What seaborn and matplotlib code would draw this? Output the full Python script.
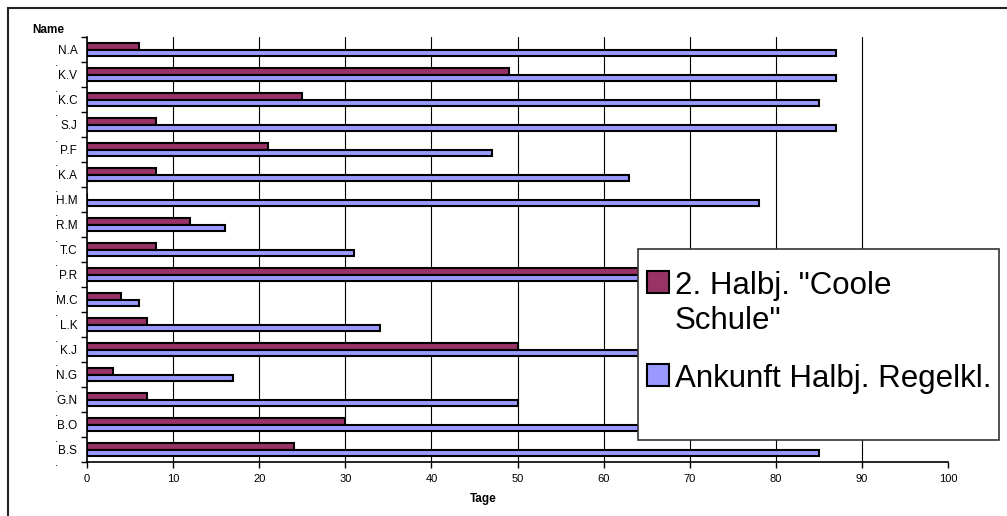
import numpy as np
import pandas as pd
import matplotlib
matplotlib.use("Agg")
import matplotlib.pyplot as plt
import seaborn as sns
from matplotlib.patches import Patch, Rectangle

# ---- data ----
names = ["N.A", "K.V", "K.C", "S.J", "P.F", "K.A", "H.M", "R.M", "T.C",
         "P.R", "M.C", "L.K", "K.J", "N.G", "G.N", "B.O", "B.S"]
halbj2 = [6, 49, 25, 8, 21, 8, 0, 12, 8, 70, 4, 7, 50, 3, 7, 30, 24]
ankunft = [87, 87, 85, 87, 47, 63, 78, 16, 31, 78, 6, 34, 74, 17, 50, 71, 85]
series = ['2. Halbj. "Coole Schule"', 'Ankunft Halbj. Regelkl.']
legend_labels = ['2. Halbj. "Coole\nSchule"', 'Ankunft Halbj. Regelkl.']
colors = ["#993366", "#9999FF"]
xticks = [0, 10, 20, 30, 40, 50, 60, 70, 80, 90, 100]
xlabel = "Tage"
ylabel = "Name"

sns.set_theme(style="white")
plt.rcParams['font.family'] = ['Liberation Sans', 'DejaVu Sans']

df = pd.DataFrame({
    "Name": names * 2,
    "Tage": halbj2 + ankunft,
    "Serie": [series[0]] * len(names) + [series[1]] * len(names),
})

W, H = 1007, 516
fig = plt.figure(figsize=(W / 100, H / 100), dpi=100)
fig.patch.set_facecolor("white")
x0, x1, ytop, ybot = 87, 948, 37, 462
ax = fig.add_axes([x0 / W, 1 - ybot / H, (x1 - x0) / W, (ybot - ytop) / H])

sns.barplot(data=df, y="Name", x="Tage", hue="Serie", hue_order=series,
            order=names, palette=colors, orient="h", width=0.5,
            edgecolor="black", linewidth=1.5, saturation=1,
            errorbar=None, legend=False, ax=ax)

n = len(names)
ax.set_xlim(xticks[0], xticks[-1])
ax.set_ylim(n - 0.5, -0.5)

# x axis
ax.xaxis.remove_overlapping_locs = False
ax.set_xticks(xticks)
ax.set_xticklabels([str(t) for t in xticks])
ax.set_xticks(xticks[1:-1], minor=True)
ax.tick_params(axis="x", which="major", direction="out", length=4, width=1,
               pad=4.5, labelsize=8, colors="black", bottom=True)
ax.tick_params(axis="x", which="minor", length=0)
ax.grid(False)
ax.xaxis.grid(True, which="minor", color="black", linewidth=0.8)
ax.set_axisbelow(True)

# y axis: ticks at category boundaries, names centred
bounds = np.arange(-0.5, n, 1.0)
ax.set_yticks(bounds)
ax.set_yticklabels([""] + ["."] * (len(bounds) - 1))
ax.set_yticks(np.arange(n), minor=True)
ax.set_yticklabels(names, minor=True)
ax.tick_params(axis="y", which="major", direction="out", length=4, width=1,
               pad=16.5, labelsize=8.5, colors="black", left=True)
ax.tick_params(axis="y", which="minor", length=0, pad=7, labelsize=8.5,
               colors="black")

for s in ["top", "right"]:
    ax.spines[s].set_visible(False)
for s in ["left", "bottom"]:
    ax.spines[s].set_color("black")
    ax.spines[s].set_linewidth(1.2)

ax.set_xlabel(xlabel, fontweight="bold", fontsize=8.5, color="black")
ax.xaxis.set_label_coords((483 - x0) / (x1 - x0), (ybot - 499) / (ybot - ytop))
ax.xaxis.label.set_va("center")
ax.set_ylabel(ylabel, rotation=0, fontweight="bold", fontsize=8.5, color="black")
ax.yaxis.set_label_coords((48 - x0) / (x1 - x0), (ybot - 30) / (ybot - ytop))
ax.yaxis.label.set_va("center")
ax.yaxis.label.set_ha("center")

# outer chart frame
fig.patches.append(Rectangle((8 / W, -0.1), 1.2, 1 - 8 / H + 0.1,
                             transform=fig.transFigure, fill=False,
                             edgecolor="#222222", linewidth=1.5, zorder=1))

# legend frame
lx0, ly0, lx1, ly1 = 638, 249, 999, 440
fig.patches.append(Rectangle((lx0 / W, 1 - ly1 / H), (lx1 - lx0) / W,
                             (ly1 - ly0) / H, transform=fig.transFigure,
                             facecolor="white", edgecolor="#333333",
                             linewidth=1.2, zorder=3))

handles = [Patch(facecolor=c, edgecolor="black", linewidth=1.5) for c in colors]
leg = fig.legend(handles=handles, labels=legend_labels, loc="upper left",
                 bbox_to_anchor=(647 / W, 1 - 271 / H), frameon=False,
                 fontsize=22.5, handlelength=0.7, handleheight=0.7,
                 handletextpad=0.2, labelspacing=0.92, borderpad=0,
                 borderaxespad=0)
leg.set_zorder(5)
for t in leg.get_texts():
    t.set_color("black")
for vp in leg._legend_handle_box.get_children():
    for hp in vp.get_children():
        hp.align = "top"

fig.savefig("out.png", dpi=100, facecolor="white")
